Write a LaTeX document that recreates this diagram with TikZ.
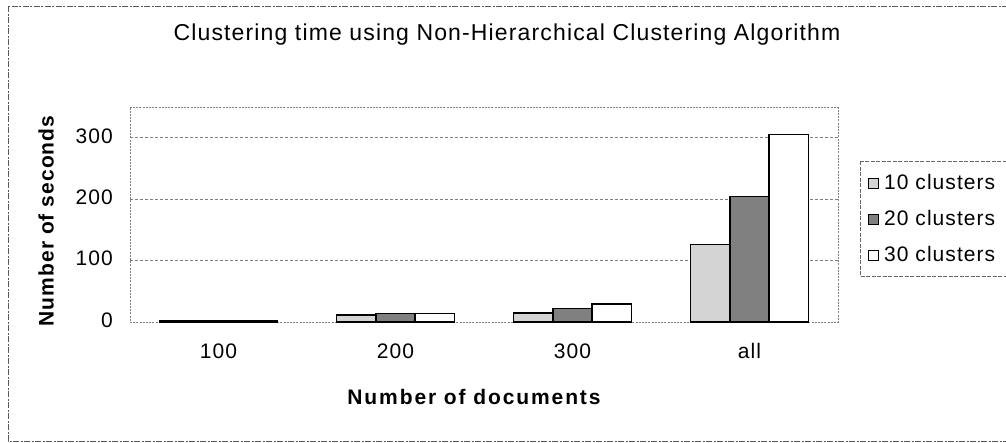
\documentclass[tikz,border=0pt]{standalone}
\usepackage{fontspec}
\setmainfont{Liberation Sans}
\newfontfamily\chartfont[LetterSpace=5]{Liberation Sans}
\newfontfamily\widefont[LetterSpace=9]{Liberation Sans}
\begin{document}
\begin{tikzpicture}[x=1pt,y=-1pt,
  outerframe/.style={draw=black!65, line width=0.9pt, dash pattern=on 6pt off 1.5pt on 2pt off 1.5pt},
  plotframe/.style={draw=black!50, line width=0.7pt, dash pattern=on 2pt off 1.2pt},
  gridline/.style={draw=black!50, line width=0.7pt, dash pattern=on 3pt off 2pt},
  legendframe/.style={draw=black!60, line width=0.8pt, dash pattern=on 4pt off 1.5pt},
  barbase/.style={draw=black, line width=1.6pt, line join=miter},
  barA/.style={barbase, fill=black!17},
  barB/.style={barbase, fill=black!50},
  barC/.style={barbase, fill=white},
  swatchA/.style={draw=black, line width=1pt, fill=black!17},
  swatchB/.style={draw=black, line width=1pt, fill=black!50},
  swatchC/.style={draw=black, line width=1pt, fill=white},
  titletext/.style={font=\chartfont\fontsize{23}{27}\selectfont, inner sep=0pt},
  ticklabel/.style={font=\chartfont\fontsize{21}{24}\selectfont, inner sep=0pt},
  axistitle/.style={font=\chartfont\fontsize{21}{24}\selectfont\bfseries, inner sep=0pt},
  xaxistitle/.style={font=\widefont\fontsize{21}{24}\selectfont\bfseries, inner sep=0pt},
  legendtext/.style={font=\chartfont\fontsize{21}{24}\selectfont, inner sep=0pt, anchor=west},
]
\useasboundingbox (0,0) rectangle (1006,442);
\clip (0,0) rectangle (1006,442);

% chart frame (runs past the right edge)
\draw[outerframe] (8,6) rectangle (1030,441);

% title
\node[titletext] (title) at (507,35) {Clustering time using Non-Hierarchical Clustering Algorithm};

% plot area: value v sits at y = 322 - 0.6143 v
\draw[plotframe] (130,107.5) rectangle (838,322);
\foreach \v in {100,200,300}
  \draw[gridline] (130,{322-0.6143*\v}) -- (838,{322-0.6143*\v});

% tick labels
\node[ticklabel, anchor=east] (t0)   at (113,320)   {0};
\node[ticklabel, anchor=east] (t100) at (113,258.5) {100};
\node[ticklabel, anchor=east] (t200) at (113,197.5) {200};
\node[ticklabel, anchor=east] (t300) at (113,136.5) {300};

% bars: group centre, then 10 / 20 / 30 cluster values
\foreach \c/\a/\b/\d in {218.5/2/2.5/2.5, 395.5/11/14/14, 572.5/15/22/29, 749.5/126/204/305} {
  \draw[barA] ({\c-59},322) rectangle ({\c-19.67},{322-0.6143*\a});
  \draw[barB] ({\c-19.67},322) rectangle ({\c+19.67},{322-0.6143*\b});
  \draw[barC] ({\c+19.67},322) rectangle ({\c+59},{322-0.6143*\d});
}

% category labels
\node[ticklabel] (c100) at (218.5,351) {100};
\node[ticklabel] (c200) at (395.5,351) {200};
\node[ticklabel] (c300) at (572.5,351) {300};
\node[ticklabel] (call) at (749.5,351) {all};

% axis titles
\node[axistitle, rotate=90] (ytitle) at (46,221) {Number of seconds};
\node[xaxistitle] (xtitle) at (474,397) {Number of documents};

% legend
\draw[legendframe] (860,161) rectangle (1030,276);
\draw[swatchA] (868,178) rectangle (878,188);
\draw[swatchB] (868,214) rectangle (878,224);
\draw[swatchC] (868,250) rectangle (878,260);
\node[legendtext] (l10) at (884,182) {10 clusters};
\node[legendtext] (l20) at (884,218) {20 clusters};
\node[legendtext] (l30) at (884,254) {30 clusters};
\end{tikzpicture}
\end{document}
